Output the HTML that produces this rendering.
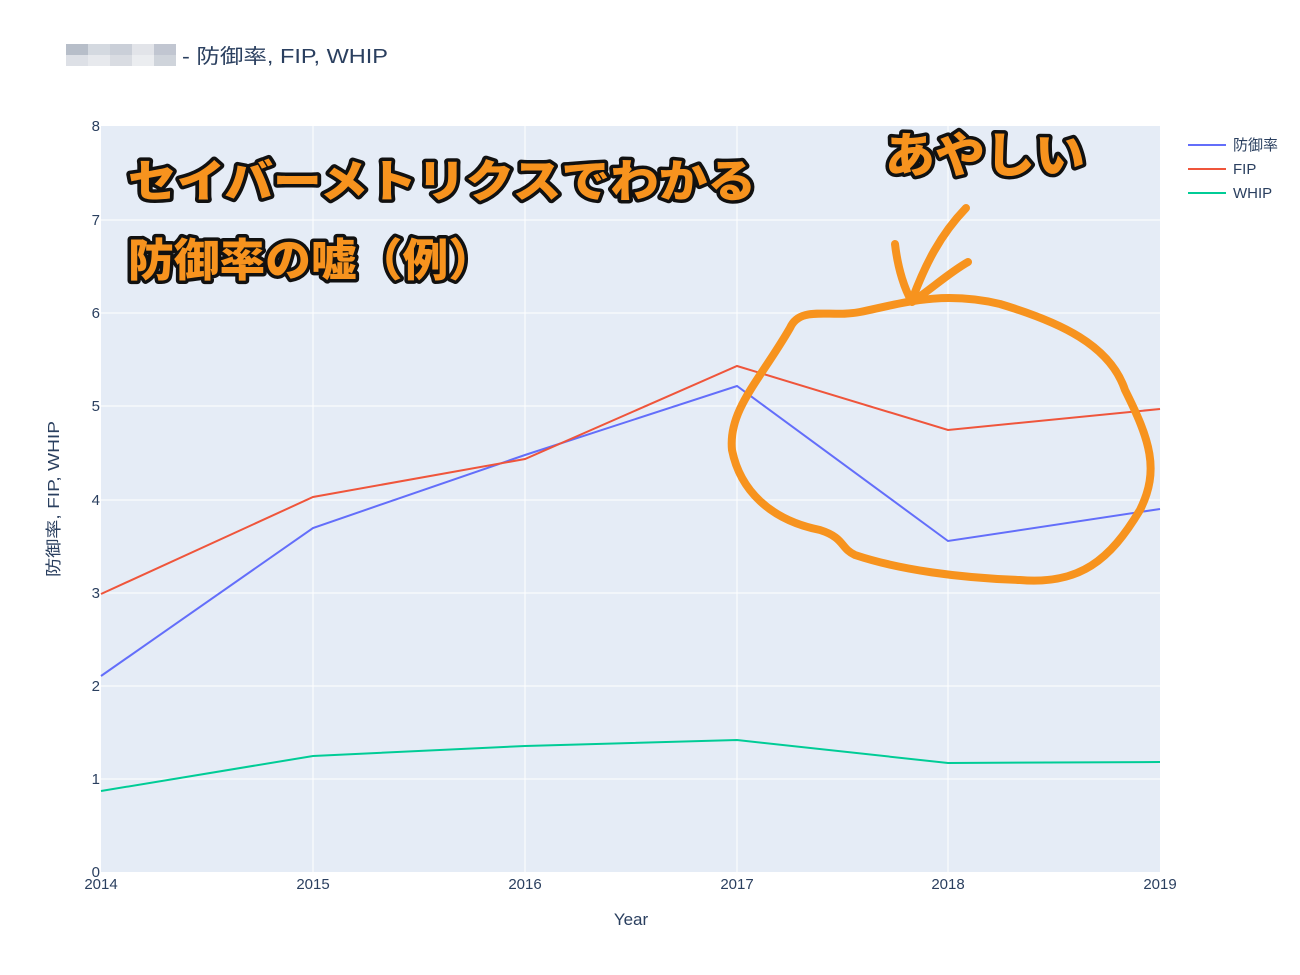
<!DOCTYPE html>
<html><head><meta charset="utf-8"><style>
body{margin:0;background:#fff;}
svg{display:block;font-family:"Liberation Sans","Noto Sans CJK JP",sans-serif;}
.t{font-size:15px}
.big{font-family:"Noto Sans CJK JP",sans-serif;font-weight:900;fill:#f7931e;stroke:#111;stroke-width:7px;paint-order:stroke;stroke-linejoin:round}
</style></head><body>
<svg width="1300" height="975" viewBox="0 0 1300 975">
<rect width="1300" height="975" fill="#fff"/>
<g opacity="0.7">
<rect x="66" y="44" width="22" height="11" fill="#9aa3b3"/><rect x="88" y="44" width="22" height="11" fill="#c3c9d3"/><rect x="110" y="44" width="22" height="11" fill="#b5bcc8"/><rect x="132" y="44" width="22" height="11" fill="#d6dae1"/><rect x="154" y="44" width="22" height="11" fill="#a7afbe"/>
<rect x="66" y="55" width="22" height="11" fill="#d0d4dc"/><rect x="88" y="55" width="22" height="11" fill="#dde0e6"/><rect x="110" y="55" width="22" height="11" fill="#c9ced7"/><rect x="132" y="55" width="22" height="11" fill="#e3e6ea"/><rect x="154" y="55" width="22" height="11" fill="#bcc2cd"/>
</g>
<text x="182" y="63" font-size="20" fill="#2a3f5f" textLength="206" lengthAdjust="spacingAndGlyphs">- 防御率, FIP, WHIP</text>
<rect x="101" y="126" width="1059" height="746" fill="#e5ecf6"/>
<g stroke="#fff" stroke-width="1">
<line x1="101" x2="1160" y1="779" y2="779"/><line x1="101" x2="1160" y1="686" y2="686"/><line x1="101" x2="1160" y1="593" y2="593"/><line x1="101" x2="1160" y1="500" y2="500"/><line x1="101" x2="1160" y1="406" y2="406"/><line x1="101" x2="1160" y1="313" y2="313"/><line x1="101" x2="1160" y1="220" y2="220"/>
<line x1="313" x2="313" y1="126" y2="872"/><line x1="525" x2="525" y1="126" y2="872"/><line x1="737" x2="737" y1="126" y2="872"/><line x1="948" x2="948" y1="126" y2="872"/>
</g>
<g class="t" fill="#2a3f5f" text-anchor="end">
<text x="100" y="877">0</text><text x="100" y="784">1</text><text x="100" y="691">2</text><text x="100" y="598">3</text><text x="100" y="505">4</text><text x="100" y="411">5</text><text x="100" y="318">6</text><text x="100" y="225">7</text><text x="100" y="131">8</text>
</g>
<g class="t" fill="#2a3f5f" text-anchor="middle">
<text x="101" y="889">2014</text><text x="313" y="889">2015</text><text x="525" y="889">2016</text><text x="737" y="889">2017</text><text x="948" y="889">2018</text><text x="1160" y="889">2019</text>
</g>
<text x="631" y="925" text-anchor="middle" font-size="17" fill="#2a3f5f">Year</text>
<text transform="translate(59,499) rotate(-90)" text-anchor="middle" font-size="16" fill="#2a3f5f" textLength="156" lengthAdjust="spacingAndGlyphs">防御率, FIP, WHIP</text>
<g fill="none" stroke-width="2">
<polyline stroke="#636efa" points="101,676 313,528 525,455 737,386 948,541 1160,509"/>
<polyline stroke="#ef553b" points="101,594 313,497 525,459 737,366 948,430 1160,409"/>
<polyline stroke="#00cc96" points="101,791 313,756 525,746 737,740 948,763 1160,762"/>
</g>
<g font-size="15" fill="#2a3f5f">
<line x1="1188" x2="1226" y1="145" y2="145" stroke="#636efa" stroke-width="2"/><text x="1233" y="150">防御率</text>
<line x1="1188" x2="1226" y1="169" y2="169" stroke="#ef553b" stroke-width="2"/><text x="1233" y="174">FIP</text>
<line x1="1188" x2="1226" y1="193" y2="193" stroke="#00cc96" stroke-width="2"/><text x="1233" y="198">WHIP</text>
</g>
<text class="big" x="128" y="197" font-size="45" textLength="628" lengthAdjust="spacingAndGlyphs">セイバーメトリクスでわかる</text>
<text class="big" x="128" y="276" font-size="45" textLength="366" lengthAdjust="spacingAndGlyphs">防御率の嘘（例）</text>
<text class="big" x="885" y="172" font-size="48" textLength="200" lengthAdjust="spacingAndGlyphs">あやしい</text>
<g fill="none" stroke="#f7931e" stroke-width="8" stroke-linecap="round" stroke-linejoin="round">
<path d="M790,328 C800,305 830,318 860,312 C900,304 940,290 1000,304 C1060,322 1110,345 1125,390 C1150,440 1160,470 1140,510 C1110,560 1080,585 1020,580 C960,578 900,570 855,555 C840,548 845,538 820,530 C770,520 740,490 732,450 C728,410 760,380 790,328"/>
<path d="M966,208 C940,235 925,265 912,300"/>
<path d="M895,244 C898,270 905,290 912,302 C930,290 950,272 968,262"/>
</g>
</svg>
</body></html>
